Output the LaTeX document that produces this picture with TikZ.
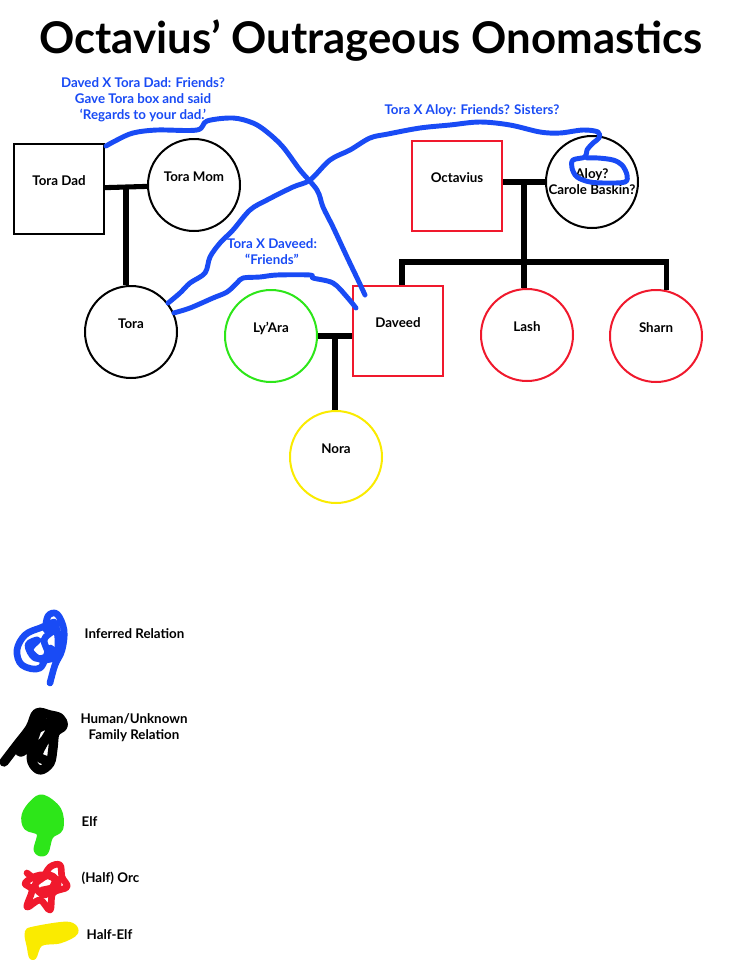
\documentclass[tikz,border=0pt]{standalone}
\usepackage{fontspec}
\setmainfont{Lato}
\usetikzlibrary{calc}
\definecolor{inferblue}{RGB}{25,75,245}
\definecolor{orcred}{RGB}{240,25,45}
\definecolor{elfgreen}{RGB}{45,230,25}
\definecolor{halfyellow}{RGB}{250,235,0}
\begin{document}
\begin{tikzpicture}[x=0.75pt, y=-0.75pt, every node/.style={font=\bfseries\fontsize{10}{12}\selectfont},
    person/.style={draw, line width=1.5pt, inner sep=0pt},
    circ/.style={person, circle, minimum size=69pt},
    sq/.style={person, rectangle, minimum size=67.5pt},
    lift/.style={text height=7pt, text depth=12.8pt},
    kin/.style={line width=3.8pt},
    guess/.style={inferblue, line width=3.7pt, line cap=round, line join=round},
    note/.style={inferblue, align=center},
    blob/.style={line width=5pt, line cap=round, line join=round}]
    \fill[white] (0,0) rectangle (742,960);
    \useasboundingbox (0,0) rectangle (742,960);
    \node[font=\bfseries\fontsize{32.8}{38}\selectfont] (title) at (371,41) {Octavius’ Outrageous Onomastics};
    % Tora's family
    \node[sq, lift] (tdad) at (59,189) {Tora Dad};
    \node[circ, lift] (tmom) at (194,185) {Tora Mom};
    \node[circ, lift] (tora) at (131,332) {Tora};
    \draw[kin] (tdad) -- (tmom);
    \coordinate (tcouple) at ($(tdad.east)!0.5!(tmom.west)$);
    \draw[kin] (tcouple) -- (tcouple |- tora.north);
    % Octavius' family
    \node[sq, orcred, lift, text=black] (octavius) at (457,186) {Octavius};
    \node[circ, align=center] (aloy) at (592,182) {Aloy?\\Carole Baskin?};
    \node[sq, orcred, lift, text=black] (daveed) at (398,331) {Daveed};
    \node[circ, orcred, lift, text=black] (lash) at (527,335) {Lash};
    \node[circ, orcred, lift, text=black] (sharn) at (656,336) {Sharn};
    \draw[kin] (octavius.east |- aloy) -- (aloy);
    \coordinate (ocouple) at ($(octavius.east)!0.5!(aloy.west)$);
    \coordinate (kids) at (ocouple |- 0,262);
    \draw[kin] (ocouple |- aloy) -- (kids);
    \draw[kin] ([xshift=3]daveed.north) |- (kids) -| (sharn.77);
    \draw[kin] (kids) -- (kids |- lash.north);
    % Daveed's family
    \node[circ, elfgreen, lift, text=black] (lyara) at (271,336) {Ly’Ara};
    \node[circ, halfyellow, lift, text=black] (nora) at (336,457) {Nora};
    \draw[kin] (lyara) -- (lyara -| daveed.west);
    \coordinate (dcouple) at ($(lyara.east)!0.5!(lyara.east -| daveed.west)$);
    \draw[kin] (dcouple) -- (dcouple |- nora.north);
    % inferred relations
    \draw[guess] plot[smooth, tension=0.55] coordinates {([shift={(1,3)}]tdad.north east) (117,140) (133,133) (157,130) (197,130) (207,121) (233,118) (253,123) (267,132) (283,147) (300,170) (317,190) (323,207) (333,227) (347,257) (358,280) ([shift={(13,10)}]daveed.north west)};
    \draw[guess] plot[smooth, tension=0.55] coordinates {(tora.38) (180,293) (190,283) (205,273) (210,257) (220,243) (233,230) (250,210) (267,200) (293,187) (310,180) (330,160) (350,150) (370,138) (388,134) (420,128) (450,125) (480,122) (510,125) (540,132) (560,133) (583,130) (598,132) (599,138) (593,143) (587,150) (585,157) (573,160) (572,168) (577,177) (590,182) (607,183) (625,182) (627,175) (622,165) (613,160) (598,158) (587,158)};
    \draw[guess] plot[smooth, tension=0.55] coordinates {(tora.24) (190,308) (213,298) (227,292) (237,283) (243,278) (260,277) (277,275) (310,275) (313,278) (333,283) (347,297) ([shift={(4,23)}]daveed.north west)};
    \node[note] (n1) at (143,100) {Daved X Tora Dad: Friends?\\Gave Tora box and said\\‘Regards to your dad.’};
    \node[note] (n2) at (472,111) {Tora X Aloy: Friends? Sisters?};
    \node[note] (n3) at (272,252) {Tora X Daveed:\\“Friends”};
    % legend
    \draw[blob, inferblue] plot[smooth, tension=0.6] coordinates {(50,683) (55,665) (62,650) (64,630) (57,614) (48,616) (46,630) (54,622) (58,640) (56,660) (50,648) (40,668) (22,665) (17,650) (25,635) (40,628) (52,625) (60,640) (58,655) (42,660) (30,650) (38,640) (28,645) (35,658) (48,655) (44,640) (52,632)};
    \node[anchor=west] (l1) at (80,634) {Inferred Relation};
    \draw[blob, line width=7pt] plot[smooth, tension=0.6] coordinates {(4,762) (17,745) (30,728) (37,713) (50,715) (60,718) (63,726) (55,733) (53,748) (50,763) (40,770) (32,762) (33,750) (43,742) (50,730) (40,722) (35,735) (30,745) (20,752) (28,735) (45,725) (55,722) (45,740) (38,755) (45,760)};
    \node[align=center] (l2) at (134,728) {Human/Unknown\\Family Relation};
    \fill[elfgreen, blob, draw=elfgreen] plot[smooth cycle, tension=0.6] coordinates {(43,798) (58,810) (60,828) (50,836) (45,852) (37,850) (40,833) (27,827) (25,815) (33,803)};
    \node[anchor=west] (l3) at (77,822) {Elf};
    \draw[blob, orcred] plot[smooth, tension=0.6] coordinates {(27,873) (40,880) (50,867) (60,865) (62,877) (67,887) (53,893) (50,910) (40,900) (27,907) (32,890) (25,883) (40,875) (55,880) (45,895) (35,885) (50,875) (58,885) (42,890)};
    \node[anchor=west] (l4) at (77,878) {(Half) Orc};
    \fill[halfyellow, blob, draw=halfyellow] plot[smooth cycle, tension=0.6] coordinates {(33,930) (67,925) (75,932) (60,940) (40,943) (33,957) (30,946) (28,934)};
    \node[anchor=west] (l5) at (82,935) {Half-Elf};
\end{tikzpicture}
\end{document}
